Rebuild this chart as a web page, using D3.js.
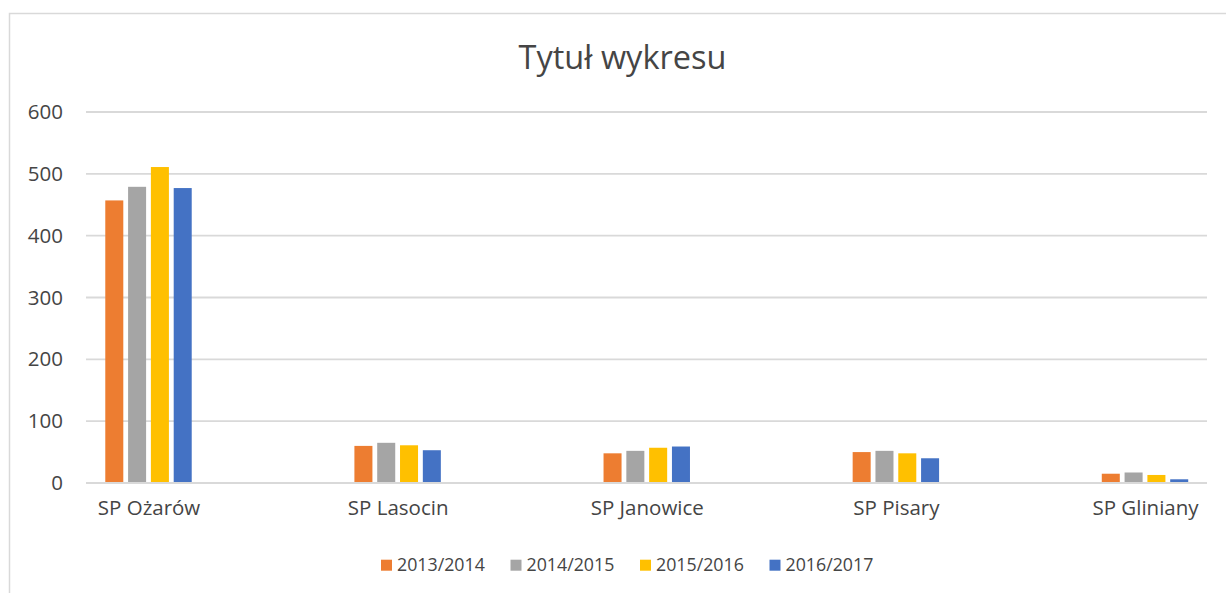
<!DOCTYPE html>
<html>
<head>
<meta charset="utf-8">
<script src="https://cdn.jsdelivr.net/npm/d3@7"></script>
<style>
  html, body { margin: 0; padding: 0; background: #fff; }
  svg { display: block; font-family: "Open Sans", "Noto Sans", sans-serif; }
</style>
</head>
<body>
<svg id="chart" width="1226" height="593"></svg>
<script>
const categories = ["SP Ożarów", "SP Lasocin", "SP Janowice", "SP Pisary", "SP Gliniany"];
const seriesNames = ["2013/2014", "2014/2015", "2015/2016", "2016/2017"];
const values2013 = [457, 60, 48, 50, 15];
const values2014 = [479, 65, 52, 52, 17];
const values2015 = [511, 61, 57, 48, 13];
const values2016 = [477, 53, 59, 40, 6];
const yTicks = [0, 100, 200, 300, 400, 500, 600];
const colors = ["#ED7D31", "#A5A5A5", "#FFC000", "#4472C4"];
const title = "Tytuł wykresu";

const seriesValues = [values2013, values2014, values2015, values2016];
const textColor = "#454545";

const svg = d3.select("#chart");

// chart border
svg.append("rect")
  .attr("x", 9.5).attr("y", 13.5)
  .attr("width", 1240).attr("height", 600)
  .attr("fill", "#fff")
  .attr("stroke", "#D9D9D9").attr("stroke-width", 1.5);

const plotLeft = 86, plotRight = 1207;
const y = d3.scaleLinear().domain([0, 600]).range([483, 112]);
const x = d3.scalePoint().domain(categories).range([148.5, 1145]);
const x1 = d3.scaleBand().domain(seriesNames).range([-45.5, 45.5]).paddingInner(0.21).paddingOuter(0.1);

// gridlines
svg.append("g").selectAll("line").data(yTicks).join("line")
  .attr("x1", plotLeft).attr("x2", plotRight)
  .attr("y1", d => y(d)).attr("y2", d => y(d))
  .attr("stroke", "#D9D9D9").attr("stroke-width", 1.8);

// y axis labels
const yAxis = d3.axisLeft(y).tickValues(yTicks).tickSize(0).tickPadding(0);
const gy = svg.append("g").attr("transform", "translate(63,0)").call(yAxis);
gy.select(".domain").remove();
gy.selectAll("text")
  .attr("fill", textColor)
  .style("font-size", "20.5px")
  .style("font-family", "'Open Sans', sans-serif");

// bars
const data = [];
categories.forEach((c, ci) => {
  seriesNames.forEach((s, si) => {
    data.push({ cat: c, series: s, value: seriesValues[si][ci], color: colors[si] });
  });
});
svg.append("g").selectAll("rect").data(data).join("rect")
  .attr("x", d => x(d.cat) + x1(d.series))
  .attr("width", x1.bandwidth())
  .attr("y", d => y(d.value))
  .attr("height", d => y(0) - y(d.value))
  .attr("fill", d => d.color);

// baseline redraw on top
svg.append("line")
  .attr("x1", plotLeft).attr("x2", plotRight)
  .attr("y1", y(0)).attr("y2", y(0))
  .attr("stroke", "#D9D9D9").attr("stroke-width", 1.8);

// x axis labels
const xAxis = d3.axisBottom(x).tickSize(0).tickPadding(0);
const gx = svg.append("g").attr("transform", "translate(0,500)").call(xAxis);
gx.select(".domain").remove();
gx.selectAll("text")
  .attr("fill", textColor)
  .attr("dy", "0.71em")
  .style("font-size", "20.5px")
  .style("font-family", "'Open Sans', sans-serif");

// title
svg.append("text")
  .attr("x", 622.5).attr("y", 69.3)
  .attr("text-anchor", "middle")
  .attr("fill", textColor)
  .style("font-size", "32.5px")
  .text(title);

// legend
const legendX = d3.scalePoint().domain(seriesNames).range([381, 769.5]);
const lg = svg.append("g").selectAll("g").data(seriesNames).join("g")
  .attr("transform", d => `translate(${legendX(d)},0)`);
lg.append("rect")
  .attr("x", 0).attr("y", 559.7)
  .attr("width", 11).attr("height", 11)
  .attr("fill", (d, i) => colors[i]);
lg.append("text")
  .attr("x", 16).attr("y", 571)
  .attr("fill", textColor)
  .style("font-size", "17.8px")
  .text(d => d);
</script>
</body>
</html>
